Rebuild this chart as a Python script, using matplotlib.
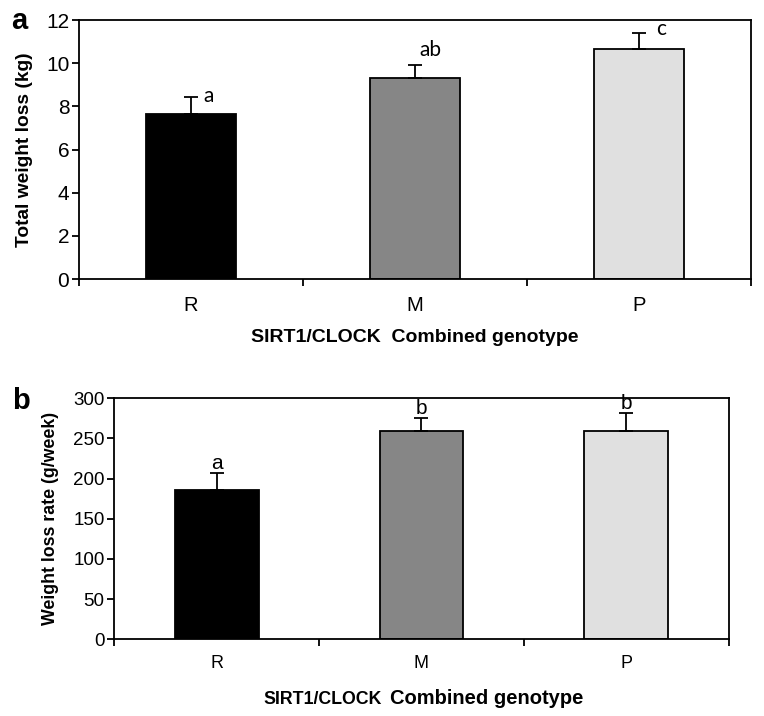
import matplotlib
matplotlib.use("Agg")
import matplotlib.pyplot as plt
import numpy as np

plt.rcParams['font.family'] = ['Liberation Sans', 'DejaVu Sans']

categories = ["R", "M", "P"]
total_loss = [7.65, 9.3, 10.65]
total_loss_err = [0.8, 0.6, 0.75]
total_letters = ["a", "ab", "c"]

rate = [185.5, 259, 259]
rate_err = [22, 16.5, 23]
rate_letters = ["a", "b", "b"]

bar_colors = ["#000000", "#868686", "#e0e0e0"]

fig = plt.figure(figsize=(7.64, 7.16), dpi=100)
ax1 = fig.add_axes([0.1034, 0.6103, 0.8796, 0.3617])
ax2 = fig.add_axes([0.1496, 0.1071, 0.8042, 0.3366])

x = np.arange(len(categories)) + 0.5


def style_axes(ax, ylim, yticks, tick_len, xsize, ysize, xpad):
    ax.set_xlim(0, 3)
    ax.set_ylim(*ylim)
    ax.set_yticks(yticks)
    ax.set_xticks([0, 1, 2, 3])
    ax.set_xticklabels([])
    ax.set_xticks(x, minor=True)
    ax.set_xticklabels(categories, minor=True)
    ax.tick_params(axis='x', which='major', direction='out', length=tick_len, width=1.3)
    ax.tick_params(axis='x', which='minor', length=0, pad=xpad, labelsize=xsize)
    ax.tick_params(axis='y', direction='out', length=tick_len, width=1.3, labelsize=ysize, pad=2)
    for s in ax.spines.values():
        s.set_linewidth(1.3)


# Panel a
ax1.bar(x, total_loss, width=0.405, color=bar_colors, edgecolor='black', linewidth=1.3, zorder=2)
ax1.errorbar(x, total_loss, yerr=[np.zeros(3), total_loss_err], fmt='none', ecolor='black',
             elinewidth=1.3, capsize=5, capthick=1.3, zorder=3)
style_axes(ax1, (0, 12), np.arange(0, 13, 2), 5, 14.5, 15, 12)
ax1.set_ylabel("Total weight loss (kg)", fontsize=13.8, fontweight='bold', labelpad=9)
ax1.set_xlabel("SIRT1/CLOCK  Combined genotype", fontsize=14, fontweight='bold', labelpad=10)
offs_a = [(0.08, 0.05), (0.07, 0.72), (0.1, 0.2)]
for xi, v, e, t, (dx, dy) in zip(x, total_loss, total_loss_err, total_letters, offs_a):
    ax1.text(xi + dx, v + e + dy, t, ha='center', va='center', fontsize=15,
             family=['Lato', 'DejaVu Sans'])
fig.text(0.025, 0.97, "a", fontsize=21, fontweight='bold', ha='center', va='center')

# Panel b
ax2.bar(x, rate, width=0.41, color=bar_colors, edgecolor='black', linewidth=1.3, zorder=2)
ax2.errorbar(x, rate, yerr=[np.zeros(3), rate_err], fmt='none', ecolor='black',
             elinewidth=1.3, capsize=5, capthick=1.3, zorder=3)
style_axes(ax2, (0, 300), np.arange(0, 301, 50), 5, 13, 13.5, 11)
ax2.set_ylabel("Weight loss rate (g/week)", fontsize=12.8, fontweight='bold', labelpad=10)
for xi, v, e, t in zip(x, rate, rate_err, rate_letters):
    ax2.text(xi, v + e, t, ha='center', va='bottom', fontsize=15)
fig.text(0.028, 0.44, "b", fontsize=21, fontweight='bold', ha='center', va='center')
fig.text(0.5, 0.023, "SIRT1/CLOCK", fontsize=12.8, fontweight='bold', ha='right', va='center')
fig.text(0.51, 0.024, "Combined genotype", fontsize=14.5, fontweight='bold', ha='left', va='center')

fig.savefig("out.png", dpi=100)
